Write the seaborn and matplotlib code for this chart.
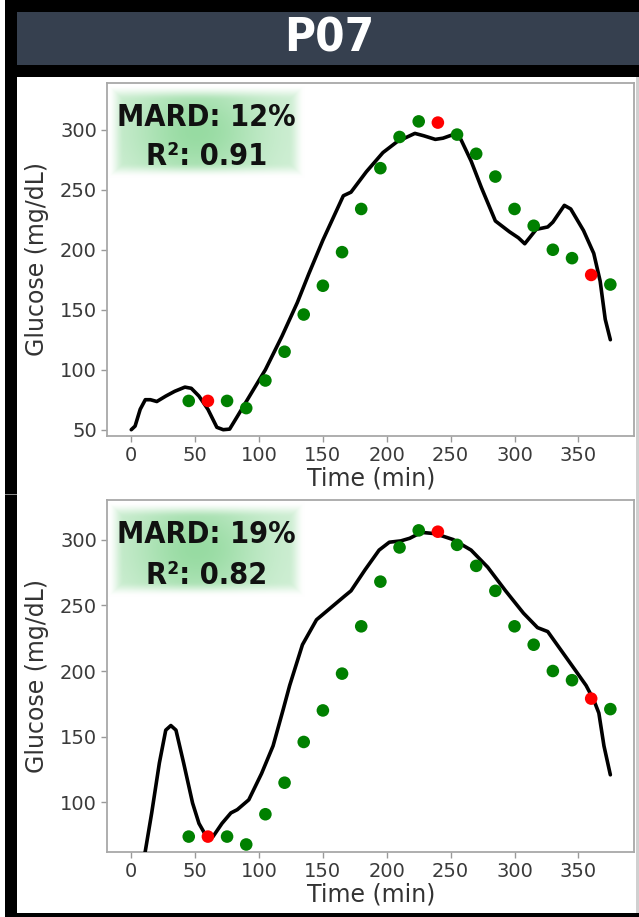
import numpy as np
import pandas as pd
import matplotlib
matplotlib.use("Agg")
import matplotlib.pyplot as plt
import seaborn as sns
from matplotlib.patches import Rectangle

# ---------------- data ----------------
title = "P07"
ref_time = [45, 60, 75, 90, 105, 120, 135, 150, 165, 180, 195, 210,
            225, 240, 255, 270, 285, 300, 315, 330, 345, 360, 375]
ref_glucose = [74, 74, 74, 68, 91, 115, 146, 170, 198, 234, 268, 294,
               307, 306, 296, 280, 261, 234, 220, 200, 193, 179, 171]
ref_kind = ["ref", "cal", "ref", "ref", "ref", "ref", "ref", "ref", "ref", "ref", "ref", "ref",
            "ref", "cal", "ref", "ref", "ref", "ref", "ref", "ref", "ref", "cal", "ref"]

cgm1_time = [0, 3, 7, 11, 15, 20, 27, 34, 42, 47, 53, 60, 67, 72, 77, 83, 94, 105,
             118, 130, 139, 150, 166, 172, 184, 197, 208, 222, 229, 238, 244, 252,
             258, 266, 274, 285, 296, 303, 308, 317, 326, 330, 339, 344, 354, 362,
             367, 371, 375]
cgm1_glucose = [50, 53, 67, 75, 75, 73.5, 78, 82, 85.5, 84.5, 78, 67, 52, 50, 50.5,
                61, 80.5, 100, 128, 156, 180, 208, 245, 248, 265, 281, 290, 297, 295,
                292, 293, 296, 292, 274, 252, 224, 215, 210, 205, 217, 219, 223, 237,
                234, 216, 197, 174, 142, 125]

cgm2_time = [5, 8, 11, 16, 22, 27, 31, 35, 41, 48, 53, 60, 64, 71, 78, 83, 92, 102,
             111, 119, 124, 134, 145, 156, 167, 172, 183, 194, 202, 211, 218, 227,
             238, 252, 266, 279, 293, 307, 318, 326, 337, 348, 356, 362, 366, 370, 375]
cgm2_glucose = [35, 50, 63, 92, 130, 155, 158.5, 155, 130, 99.5, 84, 72, 74, 84,
                92, 94.5, 102, 122, 143, 171, 189, 220, 239, 248, 257, 261, 277, 292,
                298, 299, 301, 305.5, 304.5, 300, 292, 279, 261, 244, 233, 230, 215,
                200, 189, 178, 168, 143, 121]

panels = [
    dict(time=cgm1_time, glucose=cgm1_glucose, mard="MARD: 12%", r2="R²: 0.91",
         ylim=(45, 339), yticks=[50, 100, 150, 200, 250, 300]),
    dict(time=cgm2_time, glucose=cgm2_glucose, mard="MARD: 19%", r2="R²: 0.82",
         ylim=(62.5, 330.5), yticks=[100, 150, 200, 250, 300]),
]

# ---------------- style ----------------
sns.set_theme(style="ticks")
plt.rcParams['font.family'] = ['DejaVu Sans']

W, H = 639, 917
fig = plt.figure(figsize=(W / 100, H / 100), dpi=100)
fig.patch.set_facecolor("white")

def fx(px):
    return px / W

def fy(py):
    return 1 - py / H

# frame decorations
fig.patches.append(Rectangle((fx(5), fy(77)), fx(634), 77 / H, transform=fig.transFigure,
                             facecolor="black", edgecolor="none", zorder=0))
fig.patches.append(Rectangle((fx(17), fy(65)), fx(622), 53 / H, transform=fig.transFigure,
                             facecolor="#36404f", edgecolor="none", zorder=1))
fig.patches.append(Rectangle((fx(5), 0), fx(12), 1, transform=fig.transFigure,
                             facecolor="black", edgecolor="none", zorder=1))
fig.patches.append(Rectangle((fx(5), 0), fx(634), 4 / H, transform=fig.transFigure,
                             facecolor="black", edgecolor="none", zorder=1))
fig.patches.append(Rectangle((fx(5), fy(495)), fx(12), 1.5 / H, transform=fig.transFigure,
                             facecolor="#888888", edgecolor="none", zorder=2))
fig.patches.append(Rectangle((fx(636), fy(913)), fx(3), 836 / H, transform=fig.transFigure,
                             facecolor="#d0d0d0", edgecolor="none", zorder=1))
fig.text(fx(329), fy(39), title, color="white", fontsize=34, fontweight="bold",
         fontstretch="condensed", ha="center", va="center", zorder=3)

axes_boxes = [(107.3, 83, 634.3, 435.7), (107.3, 499.5, 634.3, 851.7)]
glow_boxes = [(108, 86, 305, 178), (108, 502, 305, 597)]

ref_df = pd.DataFrame({"time": ref_time, "glucose": ref_glucose, "kind": ref_kind})

# glow image for the metric box
nx, ny = 240, 120
u = np.linspace(0, 1, nx)[None, :]
v = np.linspace(0, 1, ny)[:, None]
edge = np.clip(np.minimum(np.minimum(u, 1 - u) / 0.08, np.minimum(v, 1 - v) / 0.16), 0, 1)
edge = edge * edge * (3 - 2 * edge)
inten = (0.30 + 0.40 * np.exp(-((u - 0.45) / 0.33) ** 2 - ((v - 0.5) / 0.55) ** 2)) * edge
green = np.array([0.42, 0.80, 0.48])
img = 1 - inten[..., None] * (1 - green[None, None, :])

for p, (x0, y0, x1, y1), (gx0, gy0, gx1, gy1) in zip(panels, axes_boxes, glow_boxes):
    ax = fig.add_axes([fx(x0), fy(y1), fx(x1 - x0), (y1 - y0) / H])
    cgm_df = pd.DataFrame({"time": p["time"], "glucose": p["glucose"]})
    sns.lineplot(data=cgm_df, x="time", y="glucose", color="black", linewidth=2.6,
                 estimator=None, ax=ax, zorder=3)
    sns.scatterplot(data=ref_df, x="time", y="glucose", hue="kind",
                    palette={"ref": "#008000", "cal": "#ff0000"}, s=82,
                    edgecolor="none", legend=False, ax=ax, zorder=4)
    ax.set_xlim(-18.75, 393.75)
    ax.set_ylim(*p["ylim"])
    ax.set_xticks([0, 50, 100, 150, 200, 250, 300, 350])
    ax.set_yticks(p["yticks"])
    ax.set_xlabel("Time (min)", fontsize=17, color="#333333", labelpad=1)
    ax.set_ylabel("Glucose (mg/dL)", fontsize=17, color="#333333", labelpad=8)
    ax.tick_params(axis="both", labelsize=14, colors="#999999", labelcolor="#3a3a3a",
                   length=4, width=1)
    for s in ax.spines.values():
        s.set_visible(True)
        s.set_color("#a8a8a8")
        s.set_linewidth(1.3)

    gax = fig.add_axes([fx(gx0), fy(gy1), fx(gx1 - gx0), (gy1 - gy0) / H], zorder=5)
    gax.imshow(img, extent=[0, 1, 0, 1], aspect="auto", interpolation="bilinear")
    gax.set_xlim(0, 1)
    gax.set_ylim(0, 1)
    gax.axis("off")
    gax.text(0.5, 0.66, p["mard"], fontsize=22, fontweight="bold", fontstretch="condensed",
             ha="center", va="center", color="#111111")
    gax.text(0.5, 0.23, p["r2"], fontsize=22, fontweight="bold", fontstretch="condensed",
             ha="center", va="center", color="#111111")

fig.savefig("out.png", dpi=100)
